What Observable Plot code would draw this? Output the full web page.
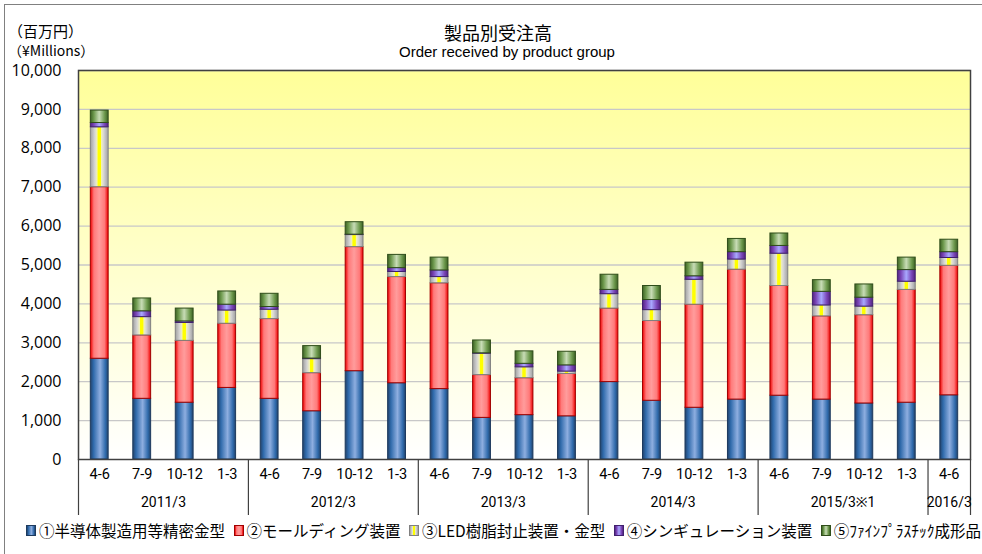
<!DOCTYPE html>
<html>
<head>
<meta charset="utf-8">
<script src="https://cdn.jsdelivr.net/npm/d3@7"></script>
<script src="https://cdn.jsdelivr.net/npm/@observablehq/plot@0.6"></script>
<style>
  body { margin: 0; background: #fff; }
  #wrap { position: relative; width: 982px; height: 554px; overflow: hidden; background: #fff; }
  #chart { position: absolute; left: 0; top: 0; }
  #border { position: absolute; left: 4px; top: 4px; width: 1200px; height: 1000px; border-left: 1px solid #808080; border-top: 1px solid #808080; pointer-events: none; }
  .t { position: absolute; white-space: nowrap; color: #000; }
  #title { left: 348px; width: 300px; top: 19px; text-align: center; font: 18px "Noto Sans CJK JP", sans-serif; }
  #subtitle { left: 357px; width: 300px; top: 43px; text-align: center; font: 15px "Liberation Sans", "Noto Sans", sans-serif; }
  #unit1 { left: 8px; top: 20px; font: 15px "Noto Sans CJK JP", sans-serif; }
  #unit2 { left: 8px; top: 40px; font: 14px "Noto Sans CJK JP", sans-serif; }
  #legend { position: absolute; left: 26px; width: 955px; top: 519px; display: flex; justify-content: space-between; align-items: center; font: 15.5px "Noto Sans CJK JP", sans-serif; color: #000; white-space: nowrap; }
  #legend .item { display: flex; align-items: center; }
  #legend .sw { width: 8px; height: 9px; border: 1px solid #333; margin-right: 3px; }
</style>
</head>
<body>
<div id="wrap">
  <div id="chart"></div>
  <div id="border"></div>
  <div class="t" id="title">製品別受注高</div>
  <div class="t" id="subtitle">Order received by product group</div>
  <div class="t" id="unit1">（百万円）</div>
  <div class="t" id="unit2">（¥Millions）</div>
  <div id="legend"></div>
</div>
<script>
// ---- data (¥ millions) ----
const periods = ["4-6","7-9","10-12","1-3","4-6","7-9","10-12","1-3","4-6","7-9","10-12","1-3","4-6","7-9","10-12","1-3","4-6","7-9","10-12","1-3","4-6"];
const fiscalYears = ["2011/3","2011/3","2011/3","2011/3","2012/3","2012/3","2012/3","2012/3","2013/3","2013/3","2013/3","2013/3","2014/3","2014/3","2014/3","2014/3","2015/3※1","2015/3※1","2015/3※1","2015/3※1","2016/3"];
const seriesNames = ["①半導体製造用等精密金型","②モールディング装置","③LED樹脂封止装置・金型","④シンギュレーション装置","⑤ﾌｧｲﾝﾌﾟﾗｽﾁｯｸ成形品"];
const semiconductorMolds = [2590,1560,1460,1840,1560,1240,2270,1960,1810,1070,1140,1110,1990,1510,1330,1540,1640,1540,1440,1460,1650];
const moldingSystems     = [4410,1630,1590,1650,2050,980,3190,2730,2720,1100,950,1090,1890,2050,2650,3340,2820,2140,2270,2900,3330];
const ledSystems         = [1540,470,460,340,240,360,310,130,160,550,280,60,370,280,640,260,830,280,220,210,200];
const singulation        = [110,150,40,150,70,15,10,100,170,10,90,160,110,260,90,190,200,350,230,300,150];
const finePlastics       = [320,330,330,340,340,320,320,340,330,330,320,350,390,360,350,340,320,300,340,320,320];
const yTicks = [0,1000,2000,3000,4000,5000,6000,7000,8000,9000,10000];

// ---- styles ----
const seriesValues = [semiconductorMolds, moldingSystems, ledSystems, singulation, finePlastics];
const gradIds = ["gSemi","gMold","gLed","gSing","gFine"];
const strokes = ["#1d3a5e","#a00000","#808080","#40206e","#2f4d1a"];
const gradStops = [
  [[0,"#22426a"],[0.18,"#2f6aab"],[0.55,"#8eaee0"],[0.85,"#2f6aab"],[1,"#22426a"]],
  [[0,"#f00000"],[0.2,"#ff7a7a"],[0.5,"#ff9c9c"],[0.8,"#ff7a7a"],[1,"#f00000"]],
  [[0,"#a0a0a0"],[0.25,"#d6d6d6"],[0.38,"#f2f2b8"],[0.43,"#ffff00"],[0.57,"#ffff00"],[0.62,"#f2f2b8"],[0.75,"#d6d6d6"],[1,"#a0a0a0"]],
  [[0,"#52247f"],[0.2,"#7a46b8"],[0.5,"#a8a8ff"],[0.8,"#7a46b8"],[1,"#52247f"]],
  [[0,"#3d6224"],[0.2,"#6e9a4e"],[0.5,"#c8dcb6"],[0.8,"#6e9a4e"],[1,"#3d6224"]]
];

// ---- derived tables ----
const cats = periods.map((p, i) => ({i, period: p, fy: fiscalYears[i]}));
const segs = [];
cats.forEach((c, i) => {
  let base = 0;
  seriesValues.forEach((vals, k) => {
    segs.push({i, k, y1: base, y2: base + vals[i]});
    base += vals[i];
  });
});
const groups = [];
cats.forEach(c => {
  const g = groups.find(g => g.name === c.fy);
  if (g) g.end = c.i + 1; else groups.push({name: c.fy, start: c.i, end: c.i + 1});
});
groups.forEach(g => g.center = (g.start + g.end) / 2);
const boundaries = groups.map(g => g.start).concat([periods.length]);

const narrow = "'Liberation Sans Narrow', Roboto, 'Noto Sans', sans-serif";

const barMarks = seriesValues.map((vals, k) =>
  Plot.rect(segs.filter(d => d.k === k), {
    x1: d => d.i + 0.29, x2: d => d.i + 0.71, y1: "y1", y2: "y2",
    fill: `url(#${gradIds[k]})`, stroke: strokes[k], strokeWidth: 1
  })
);

const chart = Plot.plot({
  width: 982, height: 554,
  marginLeft: 78, marginRight: 12, marginTop: 70, marginBottom: 95,
  style: {fontFamily: "'Open Sans', 'Liberation Sans', sans-serif", fontSize: "16px", color: "#000", background: "transparent", overflow: "visible"},
  x: {type: "linear", domain: [0, periods.length], axis: null},
  y: {domain: [0, 10000], ticks: 10, tickFormat: d3.format(","), tickSize: 0, tickPadding: 17, label: null},
  marks: [
    Plot.frame({fill: "url(#bgGrad)", stroke: "none"}),
    Plot.ruleY(yTicks.slice(1), {stroke: "#c8c8c8", strokeWidth: 1.3}),
    ...barMarks,
    Plot.frame({stroke: "#404040", strokeWidth: 1.5}),
    Plot.ruleX(boundaries, {x: d => d, y1: 0, y2: 0, insetBottom: -56, stroke: "#404040", strokeWidth: 1.2}),
    Plot.text(cats, {x: d => d.i + 0.5, text: "period", frameAnchor: "bottom", dy: 19, fontSize: 14.5, fontFamily: narrow}),
    Plot.text(groups, {x: "center", text: "name", frameAnchor: "bottom", dy: 47, fontSize: 14, fontFamily: narrow})
  ]
});

// gradients
const defs = d3.select(chart).insert("defs", ":first-child");
const bg = defs.append("linearGradient").attr("id", "bgGrad").attr("x1", 0).attr("x2", 0).attr("y1", 0).attr("y2", 1);
bg.append("stop").attr("offset", 0).attr("stop-color", "#ffff99");
bg.append("stop").attr("offset", 1).attr("stop-color", "#ffffff");
gradIds.forEach((id, k) => {
  const g = defs.append("linearGradient").attr("id", id).attr("x1", 0).attr("x2", 1).attr("y1", 0).attr("y2", 0);
  gradStops[k].forEach(([o, c]) => g.append("stop").attr("offset", o).attr("stop-color", c));
});
document.getElementById("chart").appendChild(chart);

// legend
const legend = d3.select("#legend");
seriesNames.forEach((name, k) => {
  const item = legend.append("div").attr("class", "item");
  item.append("div").attr("class", "sw")
    .style("background", `linear-gradient(to right, ${gradStops[k].map(([o, c]) => `${c} ${o * 100}%`).join(", ")})`)
    .style("border-color", strokes[k]);
  item.append("span").text(name);
});
</script>
</body>
</html>
